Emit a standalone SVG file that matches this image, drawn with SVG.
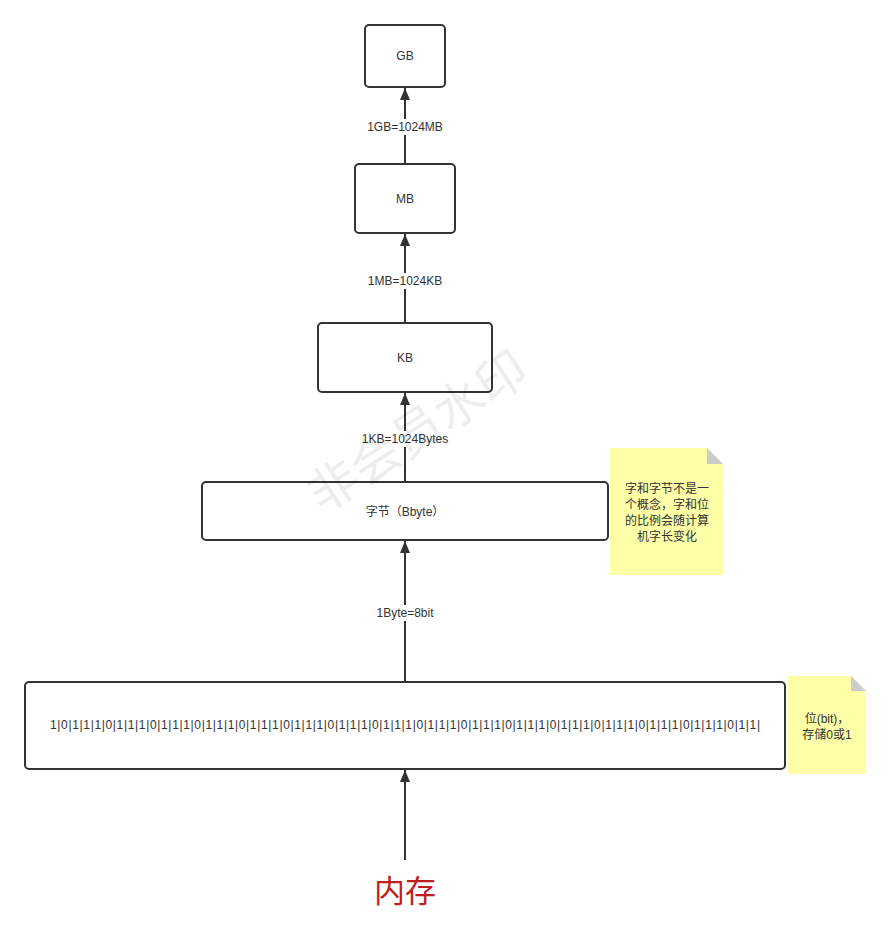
<svg xmlns="http://www.w3.org/2000/svg" width="892" height="944" viewBox="0 0 892 944">
<defs>
<marker id="arr" viewBox="0 0 12 10" refX="12" refY="5" markerWidth="12" markerHeight="10" markerUnits="userSpaceOnUse" orient="auto">
<path d="M0,0 L12,5 L0,10 Z" fill="#333"/>
</marker>
<style>
.box{fill:#fff;stroke:#333;stroke-width:2}
.t{font-family:"Liberation Sans","Noto Sans CJK SC",sans-serif;font-size:12px;fill:#333;text-anchor:middle;dominant-baseline:central}
.lbl{font-family:"Liberation Sans","Noto Sans CJK SC",sans-serif;font-size:12px;fill:#333;text-anchor:middle;dominant-baseline:central}
.lblbg{fill:#fff}
.edge{stroke:#333;stroke-width:2;fill:none}
.note{fill:#ffffa8;stroke:none}
.fold{fill:#ccc}
</style>
</defs>
<rect width="892" height="944" fill="#fff"/>
<g id="connectors">
<line class="edge" x1="405" y1="163" x2="405" y2="88" marker-end="url(#arr)"/>
<line class="edge" x1="405" y1="322" x2="405" y2="234" marker-end="url(#arr)"/>
<line class="edge" x1="405" y1="481" x2="405" y2="393" marker-end="url(#arr)"/>
<line class="edge" x1="405" y1="681" x2="405" y2="541" marker-end="url(#arr)"/>
<line class="edge" x1="405" y1="860" x2="405" y2="770" marker-end="url(#arr)"/>
<rect class="lblbg" x="360" y="119" width="90" height="16"/>
<text class="lbl" x="405" y="127">1GB=1024MB</text>
<rect class="lblbg" x="360" y="273" width="90" height="16"/>
<text class="lbl" x="405" y="281">1MB=1024KB</text>
<rect class="lblbg" x="355" y="431" width="100" height="16"/>
<text class="lbl" x="405" y="439">1KB=1024Bytes</text>
<rect class="lblbg" x="368" y="605" width="74" height="16"/>
<text class="lbl" x="405" y="613">1Byte=8bit</text>
</g>
<g id="gb"><rect class="box" x="365" y="25" width="80" height="62" rx="4"/><text class="t" x="405" y="56">GB</text></g>
<g id="mb"><rect class="box" x="355" y="164" width="100" height="69" rx="4"/><text class="t" x="405" y="199">MB</text></g>
<g id="kb"><rect class="box" x="318" y="323" width="174" height="69" rx="4"/><text class="t" x="405" y="358">KB</text></g>
<g id="byte"><rect class="box" x="202" y="482" width="406" height="58" rx="4"/><text class="t" x="405" y="512">字节（Bbyte）</text></g>
<g id="note-byte">
<path class="note" d="M610,448 H707 L723,464 V575 H610 Z"/>
<path class="fold" d="M707,448 L723,464 H707 Z"/>
<text class="t" x="667" y="489">字和字节不是一</text>
<text class="t" x="667" y="505">个概念，字和位</text>
<text class="t" x="667" y="521">的比例会随计算</text>
<text class="t" x="667" y="537">机字长变化</text>
</g>
<g id="bits"><rect class="box" x="25" y="682" width="760" height="87" rx="4"/><text class="t" x="405" y="725" textLength="710" lengthAdjust="spacing">1|0|1|1|1|0|1|1|1|0|1|1|1|0|1|1|1|0|1|1|1|0|1|1|1|0|1|1|1|0|1|1|1|0|1|1|1|0|1|1|1|0|1|1|1|0|1|1|1|0|1|1|1|0|1|1|1|0|1|1|1|0|1|1|</text></g>
<g id="note-bit">
<path class="note" d="M788,676 H851 L866,691 V774 H788 Z"/>
<path class="fold" d="M851,676 L866,691 H851 Z"/>
<text class="t" x="827" y="719">位(bit)，</text>
<text class="t" x="827" y="735">存储0或1</text>
</g>
<g id="memory"><text x="405" y="891" font-family="'Liberation Sans','Noto Sans CJK SC',sans-serif" font-size="31" fill="#bf1e1e" text-anchor="middle" dominant-baseline="central">内存</text></g>
<text x="415" y="428" transform="rotate(-33 415 428)" font-family="'Noto Sans CJK SC',sans-serif" font-size="50" fill="#000" fill-opacity="0.07" text-anchor="middle" dominant-baseline="central">非会员水印</text>
</svg>
